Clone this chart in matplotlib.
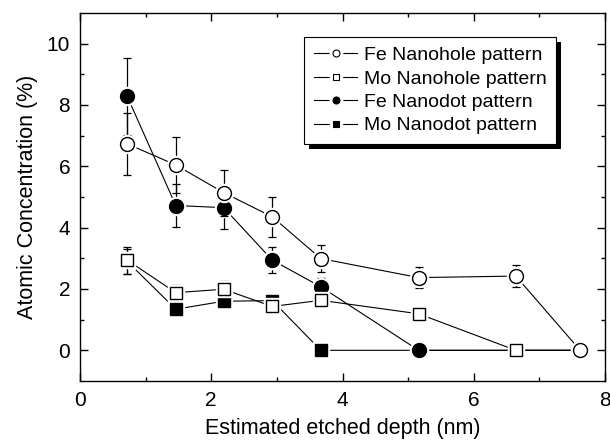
import matplotlib
matplotlib.use('Agg')
import matplotlib.pyplot as plt
from matplotlib.patches import Rectangle
from matplotlib.legend_handler import HandlerTuple

plt.rcParams['font.family'] = ['Liberation Sans', 'DejaVu Sans']

# Estimated etched depth (nm)
depth_fe_hole = [0.72, 1.46, 2.19, 2.93, 3.67, 5.16, 6.64, 7.62]
depth_mo_hole = [0.72, 1.46, 2.19, 2.93, 3.67, 5.16, 6.64, 7.62]
depth_fe_dot = [0.72, 1.46, 2.19, 2.93, 3.67, 5.16, 7.62]
depth_mo_dot = [0.72, 1.46, 2.19, 2.93, 3.67, 5.16, 6.64, 7.62]

# Atomic concentration (%) and error bars
fe_hole = [6.73, 6.04, 5.14, 4.35, 2.99, 2.37, 2.42, 0.0]
fe_hole_err = [1.0, 0.9, 0.75, 0.65, 0.45, 0.35, 0.37, 0.0]
mo_hole = [2.94, 1.88, 1.99, 1.43, 1.63, 1.19, 0.0, 0.0]
mo_hole_err = [0.44, 0.25, 0.27, 0.2, 0.15, 0.1, 0.0, 0.0]
fe_dot = [8.28, 4.72, 4.65, 2.94, 2.07, 0.0, 0.0]
fe_dot_err = [1.25, 0.7, 0.7, 0.43, 0.3, 0.0, 0.0]
mo_dot = [2.9, 1.34, 1.6, 1.62, 0.0, 0.0, 0.0, 0.0]
mo_dot_err = [0.4, 0.15, 0.2, 0.15, 0.0, 0.0, 0.0, 0.0]

labels = ['Fe Nanohole pattern', 'Mo Nanohole pattern',
          'Fe Nanodot pattern', 'Mo Nanodot pattern']

fig = plt.figure(figsize=(6.10, 4.42), dpi=100)
ax = fig.add_axes([0.131, 0.138, 0.861, 0.833])


def draw_series(x, y, err, marker, face, ms, z):
    ax.errorbar(x, y, yerr=err, fmt='none', ecolor='black', elinewidth=0.9,
                capsize=2.8, capthick=0.9, zorder=z)
    ax.plot(x, y, '-', color='black', lw=0.8, zorder=z)
    # white halo so the lines stop short of the symbols
    ax.plot(x, y, marker, ls='none', ms=ms + 3, mfc='white', mec='white',
            zorder=z + 0.1)
    ax.plot(x, y, marker, ls='none', ms=ms, mfc=face, mec='black', mew=1.0,
            zorder=z + 0.2)


draw_series(depth_mo_dot, mo_dot, mo_dot_err, 's', 'black', 9, 2)
draw_series(depth_fe_dot, fe_dot, fe_dot_err, 'o', 'black', 10, 3)
draw_series(depth_mo_hole, mo_hole, mo_hole_err, 's', 'white', 9, 4)
draw_series(depth_fe_hole, fe_hole, fe_hole_err, 'o', 'white', 10, 5)

ax.set_xlim(0, 8)
ax.set_ylim(-1, 11)
ax.set_xticks([0, 2, 4, 6, 8])
ax.set_xticks([1, 3, 5, 7], minor=True)
ax.set_yticks([0, 2, 4, 6, 8, 10])
ax.set_yticks([1, 3, 5, 7, 9], minor=True)
ax.tick_params(which='both', direction='in', top=True, right=True,
               labelsize=15, width=1.0)
ax.tick_params(which='major', length=6, pad=7)
ax.tick_params(which='minor', length=3)
for s in ax.spines.values():
    s.set_linewidth(1.0)

ax.set_xlabel('Estimated etched depth (nm)', fontsize=15.5, labelpad=6)
ax.set_ylabel('Atomic Concentration (%)', fontsize=15.5, labelpad=6)

# legend handles: line, white gap, small symbol
handles = []
for marker, face in [('o', 'white'), ('s', 'white'), ('o', 'black'), ('s', 'black')]:
    ln, = ax.plot([], [], '-', color='black', lw=0.8)
    gap, = ax.plot([], [], ls='none', marker=marker, ms=9, mfc='white', mec='white')
    mk, = ax.plot([], [], ls='none', marker=marker, ms=5, mfc=face,
                  mec='black', mew=0.8)
    handles.append((ln, gap, mk))

leg = ax.legend(handles, labels, loc='upper right', bbox_to_anchor=(0.907, 0.935),
                handler_map={tuple: HandlerTuple(ndivide=1)},
                fontsize=14, frameon=True, fancybox=False, edgecolor='black',
                framealpha=1, handlelength=2.2, handletextpad=0.35,
                labelspacing=0.3, borderpad=0.5, borderaxespad=0)
leg.get_frame().set_linewidth(0.8)
leg.set_zorder(10)

# drop shadow behind the legend box
fig.canvas.draw()
bb = leg.get_window_extent().transformed(ax.transAxes.inverted())
dx, dy = 5 / 525, 5 / 368
shadow = Rectangle((bb.x0 + dx, bb.y0 - dy), bb.width, bb.height,
                   transform=ax.transAxes, facecolor='black',
                   edgecolor='none', zorder=9, clip_on=False)
ax.add_patch(shadow)

fig.savefig('out.png', dpi=100)
